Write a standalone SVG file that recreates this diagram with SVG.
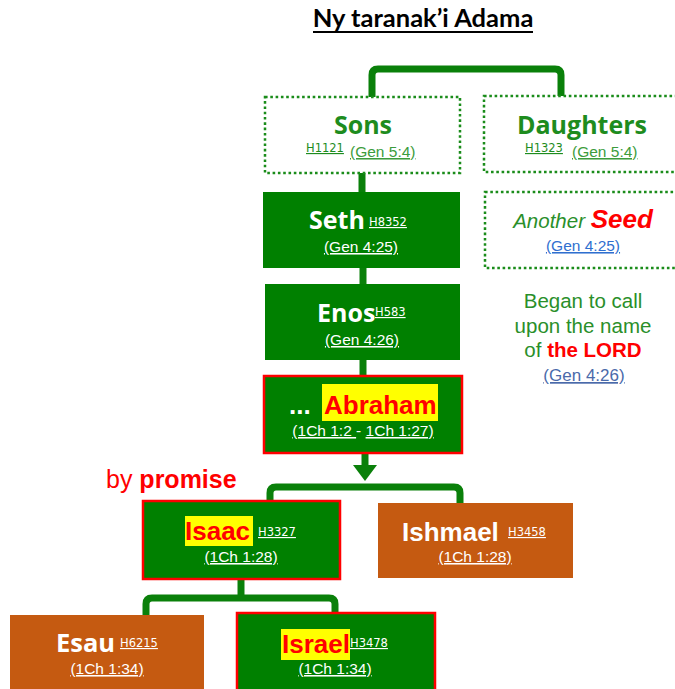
<svg xmlns="http://www.w3.org/2000/svg" width="675" height="689" viewBox="0 0 675 689">
<style>
.conn{fill:none;stroke:#0A800A;stroke-width:7;stroke-linejoin:round}
.dot{fill:#fff;stroke:#1A8C1A;stroke-width:2.5;stroke-dasharray:2.6 2.7}
.gbox{fill:#008000}
.rbox{fill:#008000;stroke:#FF0000;stroke-width:2.5}
.obox{fill:#C55A11}
.hl{fill:#FFFF00}
.hum{font-family:"Open Sans","DejaVu Sans",sans-serif;font-weight:bold}
.ar{font-family:"Liberation Sans",Arial,sans-serif}
.hn{font-family:"DejaVu Sans",Verdana,sans-serif;font-size:11.5px;text-decoration:underline}
.ref{font-family:"Liberation Sans",Arial,sans-serif;font-size:15.5px;text-decoration:underline}
.w{fill:#fff}
.big{font-size:26px;font-weight:bold}
</style>
<text x="423" y="27" text-anchor="middle" font-family="Lato,'Open Sans',sans-serif" font-weight="bold" font-size="25.5" fill="#000">Ny taranak’i Adama</text>
<line x1="313" y1="32" x2="533" y2="32" stroke="#000" stroke-width="1.8"/>
<g id="connectors">
<path class="conn" d="M372 97 V75 Q372 69 378 69 H555 Q561 69 561 75 V96"/>
<line class="conn" x1="362" y1="173" x2="362" y2="192"/>
<line class="conn" x1="363" y1="268" x2="363" y2="284"/>
<line class="conn" x1="363" y1="360" x2="363" y2="376"/>
<line class="conn" x1="365" y1="453" x2="365" y2="467"/>
<polygon points="353,465 377,465 365,481" fill="#0A800A"/>
<path class="conn" d="M270 501 V493 Q270 487 276 487 H454 Q460 487 460 493 V503"/>
<line class="conn" x1="241" y1="579" x2="241" y2="598"/>
<path class="conn" d="M146 615 V604 Q146 598 152 598 H329 Q335 598 335 604 V613"/>
</g>
<g id="sons">
<rect class="dot" x="265" y="97" width="195" height="76"/>
<text class="hum" x="363" y="134" text-anchor="middle" font-size="25" fill="#1E8C1E">Sons</text>
<text class="hn" x="306" y="152" fill="#1E8C1E">H1121</text>
<text class="ref" x="350" y="157" fill="#3C9C3C">(Gen 5:4)</text>
</g>
<g id="daughters">
<rect class="dot" x="484" y="96" width="200" height="76"/>
<text class="hum" x="582" y="134" text-anchor="middle" font-size="25" fill="#1E8C1E">Daughters</text>
<text class="hn" x="525" y="152" fill="#1E8C1E">H1323</text>
<text class="ref" x="572" y="157" fill="#3C9C3C">(Gen 5:4)</text>
</g>
<g id="seth">
<rect class="gbox" x="263" y="192" width="197" height="76"/>
<text class="hum w" x="309" y="229" font-size="25">Seth</text>
<text class="hn w" x="369" y="226">H8352</text>
<text class="ref w" x="361" y="252" text-anchor="middle">(Gen 4:25)</text>
</g>
<g id="another-seed">
<rect class="dot" x="485" y="192" width="200" height="76"/>
<text x="583" y="228" text-anchor="middle" class="ar"><tspan font-style="italic" font-size="20.5" fill="#2A8F2A">Another </tspan><tspan font-style="italic" font-weight="bold" font-size="26" fill="#FF0000">Seed</tspan></text>
<text class="ref" x="583" y="251" text-anchor="middle" fill="#2F6FCF">(Gen 4:25)</text>
</g>
<g id="began">
<text class="ar" font-size="20.5" fill="#2A8F2A" text-anchor="middle"><tspan x="583" y="308">Began to call</tspan><tspan x="583" y="333">upon the name</tspan><tspan x="583" y="357">of <tspan font-weight="bold" fill="#FF0000">the LORD</tspan></tspan></text>
<text class="ar" x="584" y="381" font-size="17" text-anchor="middle" fill="#4A6AAA" text-decoration="underline">(Gen 4:26)</text>
</g>
<g id="enos">
<rect class="gbox" x="265" y="284" width="195" height="76"/>
<text class="hum w" x="317" y="322" font-size="25">Enos</text>
<text class="hn w" x="375" y="316">H583</text>
<text class="ref w" x="362" y="345" text-anchor="middle">(Gen 4:26)</text>
</g>
<g id="abraham">
<rect class="rbox" x="264" y="376" width="198" height="77"/>
<rect class="hl" x="322" y="384" width="116" height="37"/>
<text class="ar big w" x="289" y="414">...</text>
<text class="ar big" x="324" y="414" fill="#FF0000">Abraham</text>
<text class="ar" x="363" y="436" text-anchor="middle" font-size="15.5" fill="#fff"><tspan text-decoration="underline">(1Ch 1:2 </tspan>- <tspan text-decoration="underline">1Ch 1:27)</tspan></text>
</g>
<text class="ar" x="106" y="488" font-size="25" fill="#FF0000">by <tspan font-weight="bold">promise</tspan></text>
<g id="isaac">
<rect class="rbox" x="143" y="501" width="197" height="78"/>
<rect class="hl" x="185" y="516" width="68" height="30"/>
<text class="ar big" x="185" y="540" fill="#FF0000">Isaac</text>
<text class="hn w" x="258" y="536">H3327</text>
<text class="ref w" x="241" y="562" text-anchor="middle">(1Ch 1:28)</text>
</g>
<g id="ishmael">
<rect class="obox" x="378" y="503" width="195" height="75"/>
<text class="ar big w" x="402" y="541">Ishmael</text>
<text class="hn w" x="508" y="536">H3458</text>
<text class="ref w" x="475" y="562" text-anchor="middle">(1Ch 1:28)</text>
</g>
<g id="esau">
<rect class="obox" x="10" y="615" width="194" height="80"/>
<text class="hum w" x="56" y="652" font-size="25.5">Esau</text>
<text class="hn w" x="120" y="647">H6215</text>
<text class="ref w" x="107" y="674" text-anchor="middle">(1Ch 1:34)</text>
</g>
<g id="israel">
<rect class="rbox" x="237" y="613" width="198" height="82"/>
<rect class="hl" x="281" y="629" width="69" height="31"/>
<text class="ar big" x="282" y="653" fill="#FF0000">Israel</text>
<text class="hn w" x="350" y="647">H3478</text>
<text class="ref w" x="335" y="674" text-anchor="middle">(1Ch 1:34)</text>
</g>
</svg>
